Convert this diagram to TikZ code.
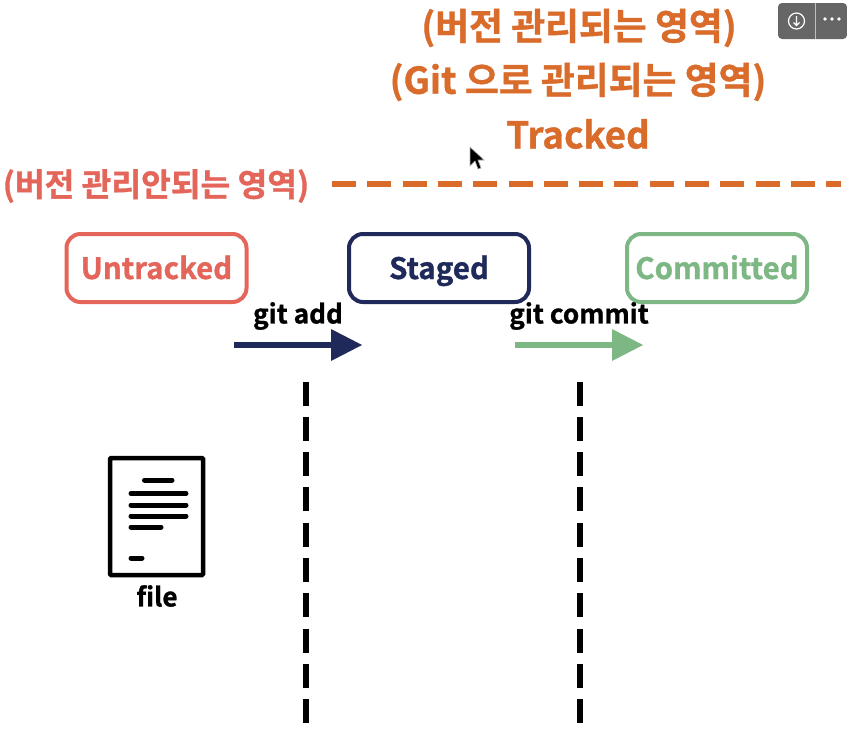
\documentclass[tikz,border=0pt]{standalone}
\usepackage{fontspec}
\setmainfont{Noto Sans CJK KR Bold}[FakeBold=1]
\definecolor{orangec}{HTML}{D96B2B}
\definecolor{redc}{HTML}{E4655A}
\definecolor{navyc}{HTML}{1F2A5A}
\definecolor{greenc}{HTML}{7DB784}
\tikzset{
 head/.style={font=\fontsize{36.8}{37}\selectfont,text=orangec,inner sep=0pt,anchor=center},
 statebox/.style={draw=#1,text=#1,line width=4pt,rounded corners=14pt,minimum width=180pt,minimum height=68pt,font=\fontsize{29.5}{30}\selectfont,inner sep=0pt,text height=22pt,text depth=0pt},
 cmd/.style={font=\fontsize{26.2}{27}\selectfont,text=black,inner sep=0pt},
 vdash/.style={line width=6pt,black,dash pattern=on 24pt off 11.3pt},
 fline/.style={line width=5pt,line cap=round,black},
}
\begin{document}
\begin{tikzpicture}[x=1pt,y=-1pt]
\useasboundingbox (0,0) rectangle (847,734);
\fill[white] (0,0) rectangle (847,734);
\node[head] (t1) at (579,28) {(버전 관리되는 영역)};
\node[head] (t2) at (578,82) {(Git 으로 관리되는 영역)};
\node[head] (t3) at (578,134) {Tracked};
\node[head,text=redc,font=\fontsize{32.3}{33}\selectfont] (t4) at (156,186) {(버전 관리안되는 영역)};
\coordinate (ds) at (332,184);
\coordinate (de) at (841,184);
\draw[orangec,line width=6pt,dash pattern=on 24pt off 11.3pt] (ds) -- (de);
\node[statebox=redc] (u) at (156.5,268) {Untracked};
\node[statebox=navyc] (s) at (439,268) {Staged};
\node[statebox=greenc] (c) at (717,268) {Committed};
\node[cmd] (ga) at (298,316) {git add};
\node[cmd] (gc) at (579,316) {git commit};
\coordinate (a1) at (234,345);
\coordinate (a2) at (333,345);
\coordinate (b1) at (515,345);
\coordinate (b2) at (613,345);
\draw[navyc,line width=6pt] (a1) -- (a2);
\fill[navyc] (331,329) -- (362,345) -- (331,361) -- cycle;
\draw[greenc,line width=6pt] (b1) -- (b2);
\fill[greenc] (612,329) -- (643,345) -- (612,361) -- cycle;
\coordinate (v1) at (305.5,381.5);
\coordinate (v1e) at (305.5,724);
\coordinate (v2) at (579.5,381.5);
\coordinate (v2e) at (579.5,724);
\draw[vdash] (v1) -- (v1e);
\draw[vdash] (v2) -- (v2e);
\draw[black,line width=4.5pt,rounded corners=1pt] (110,458) rectangle (203,575);
\draw[fline] (144.5,480) -- (172,480);
\draw[fline] (131,493.5) -- (186,493.5);
\draw[fline] (131,505) -- (186,505);
\draw[fline] (131,516) -- (186,516);
\draw[fline] (131,527) -- (161,527);
\draw[fline] (131,558) -- (142,558);
\node[cmd] (f) at (157,596) {file};
% UI overlay
\fill[black!60,rounded corners=4pt] (778,3) rectangle (847,39);
\draw[white!75!black,line width=0.6pt] (815,3) -- (815,39);
\draw[white,line width=1.2pt] (796.5,21) circle (8pt);
\draw[white,line width=1.1pt] (796.5,16) -- (796.5,25) (793.5,22.5) -- (796.5,25.5) -- (799.5,22.5);
\fill[white] (825,19) circle (1.8pt) (832,19) circle (1.8pt) (839,19) circle (1.8pt);
% cursor
\fill[black,draw=white!70!black,line width=0.6pt] (470,147) -- (470,166) -- (475,161) -- (478,169) -- (481,168) -- (478,160) -- (484,160) -- cycle;
\end{tikzpicture}
\end{document}
